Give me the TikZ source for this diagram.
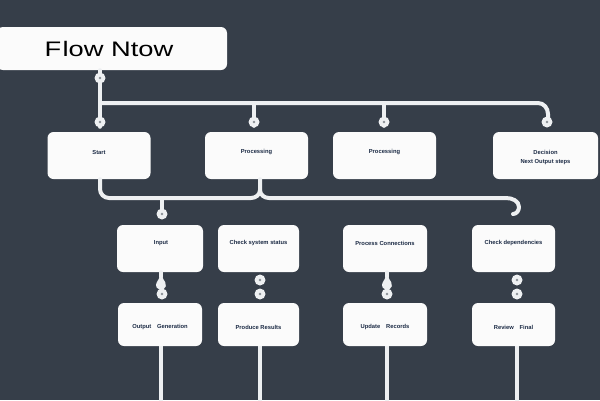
\documentclass[tikz,border=0pt]{standalone}
\usepackage{fontspec}
\setmainfont{Liberation Sans}
\definecolor{bgcol}{HTML}{363E49}
\definecolor{wirecol}{HTML}{EEF0F2}
\definecolor{boxcol}{HTML}{FBFBFB}
\definecolor{txtcol}{HTML}{1C2B45}
\definecolor{dotgray}{HTML}{8A8F96}
\tikzset{
  x=1pt,y=-1pt,
  box/.style={fill=boxcol,draw=none,rounded corners=6pt,inner sep=0pt,minimum height=47pt},
  lbl/.style={font=\fontsize{5.8}{6.8}\selectfont\bfseries,text=txtcol,inner sep=0pt,align=center},
  wire/.style={draw=wirecol,line width=4pt,line cap=round,line join=round},
  dotnode/.style={circle,fill=wirecol,minimum size=11pt,inner sep=0pt,
    path picture={\fill[dotgray] (path picture bounding box.center) circle (1.4pt);}},
}
\begin{document}
\begin{tikzpicture}
\fill[bgcol] (0,0) rectangle (600,400);
\useasboundingbox (0,0) rectangle (600,400);

% title
\node[box,minimum width=230pt,minimum height=43pt] (title) at (112,48.5) {};
\node[inner sep=0pt,text=black] (ttext) at (109,49) {\scalebox{1.3}[1]{\fontsize{21}{24}\selectfont F\kern1pt low Ntow}};

% row 1
\node[box,minimum width=103pt] (A) at (99,155.5) {};
\node[box,minimum width=103pt] (B) at (256.5,155.5) {};
\node[box,minimum width=103pt] (C) at (384.5,155.5) {};
\node[box,minimum width=105pt] (D) at (545.5,155.5) {};
\node[lbl] (tA) at (99,152) {Start};
\node[lbl] (tB) at (256.5,152) {Processing};
\node[lbl] (tC) at (384.5,152) {Processing};
\node[lbl] (tD) at (545.5,157.5) {Decision\\[2pt]Next Output steps};

% row 2
\node[box,minimum width=86pt] (E) at (160,248.5) {};
\node[box,minimum width=81pt] (F) at (258.5,248.5) {};
\node[box,minimum width=84pt] (G) at (385,248.5) {};
\node[box,minimum width=83pt] (H) at (513.5,248.5) {};
\node[lbl] (tE) at (161,243) {Input};
\node[lbl] (tF) at (258.5,243) {Check system status};
\node[lbl] (tG) at (385,243) {Process Connections};
\node[lbl] (tH) at (513.5,243) {Check dependencies};

% row 3
\node[box,minimum width=84pt,minimum height=43pt] (I) at (160,324.5) {};
\node[box,minimum width=81pt,minimum height=43pt] (J) at (258.5,324.5) {};
\node[box,minimum width=84pt,minimum height=43pt] (K) at (385,324.5) {};
\node[box,minimum width=83pt,minimum height=43pt] (L) at (513.5,324.5) {};
\node[lbl] (tI) at (160,327) {Output\quad Generation};
\node[lbl] (tJ) at (258.5,327) {Produce Results};
\node[lbl] (tK) at (385,327) {Update\quad Records};
\node[lbl] (tL) at (513.5,327) {Review\quad Final};

% top connectors
\coordinate (busL) at (100,103);
\coordinate (busB) at (254,103);
\coordinate (busC) at (384,103);
\coordinate (busD) at (538,103);
\draw[wire] (title.south -| busL) -- ([yshift=5pt]A.north -| busL);
\draw[wire] (busL) -- (busD) to[out=0,in=90] (548,114) -- ([yshift=8pt]D.north -| 548,0);
\draw[wire] (busB) -- ([yshift=6pt]B.north -| busB);
\draw[wire] (busC) -- ([yshift=6pt]C.north -| busC);
\node[dotnode] (d0) at (100,78) {};
\node[dotnode] (dA) at (100,122) {};
\node[dotnode] (dB) at (254,122) {};
\node[dotnode] (dC) at (384,122) {};
\node[dotnode] (dD) at (547,122) {};

% lower bus
\coordinate (bB) at (260,190);
\draw[wire] (A.south -| busL) -- (100,189) to[out=-90,in=180] (109,198) -- (251,198) to[out=0,in=-90] (bB) -- (B.south -| bB);
\draw[wire] (bB) to[out=-90,in=180] (269,198) -- (506,198) to[out=0,in=90] (519,207) to[out=-90,in=0] (513,214);
\draw[wire] (162,198) -- (162,212);
\node[dotnode] (dE) at (162,214) {};

% row2 to row3
\draw[wire] (E.south -| 161,0) -- (161,277);
\fill[wirecol] (161,275) -- (165.33,282.5) arc[start angle=30,end angle=-210,radius=5pt] -- cycle;
\node[dotnode] (eI) at (162,294) {};
\node[dotnode] (fF) at (260,280) {};
\node[dotnode] (fJ) at (260,294) {};
\draw[wire] (G.south -| 387,0) -- (387,277);
\fill[wirecol] (387,275) -- (391.33,282.5) arc[start angle=30,end angle=-210,radius=5pt] -- cycle;
\node[dotnode] (gK) at (387,294) {};
\node[dotnode] (hH) at (517,280) {};
\node[dotnode] (hL) at (517,294) {};

% bottom lines
\coordinate (bot1) at (161,402);
\coordinate (bot2) at (260,402);
\coordinate (bot3) at (387,402);
\coordinate (bot4) at (517,402);
\draw[wire,line cap=butt] (I.south -| bot1) -- (bot1);
\draw[wire,line cap=butt] (J.south -| bot2) -- (bot2);
\draw[wire,line cap=butt] (K.south -| bot3) -- (bot3);
\draw[wire,line cap=butt] (L.south -| bot4) -- (bot4);
\end{tikzpicture}
\end{document}
